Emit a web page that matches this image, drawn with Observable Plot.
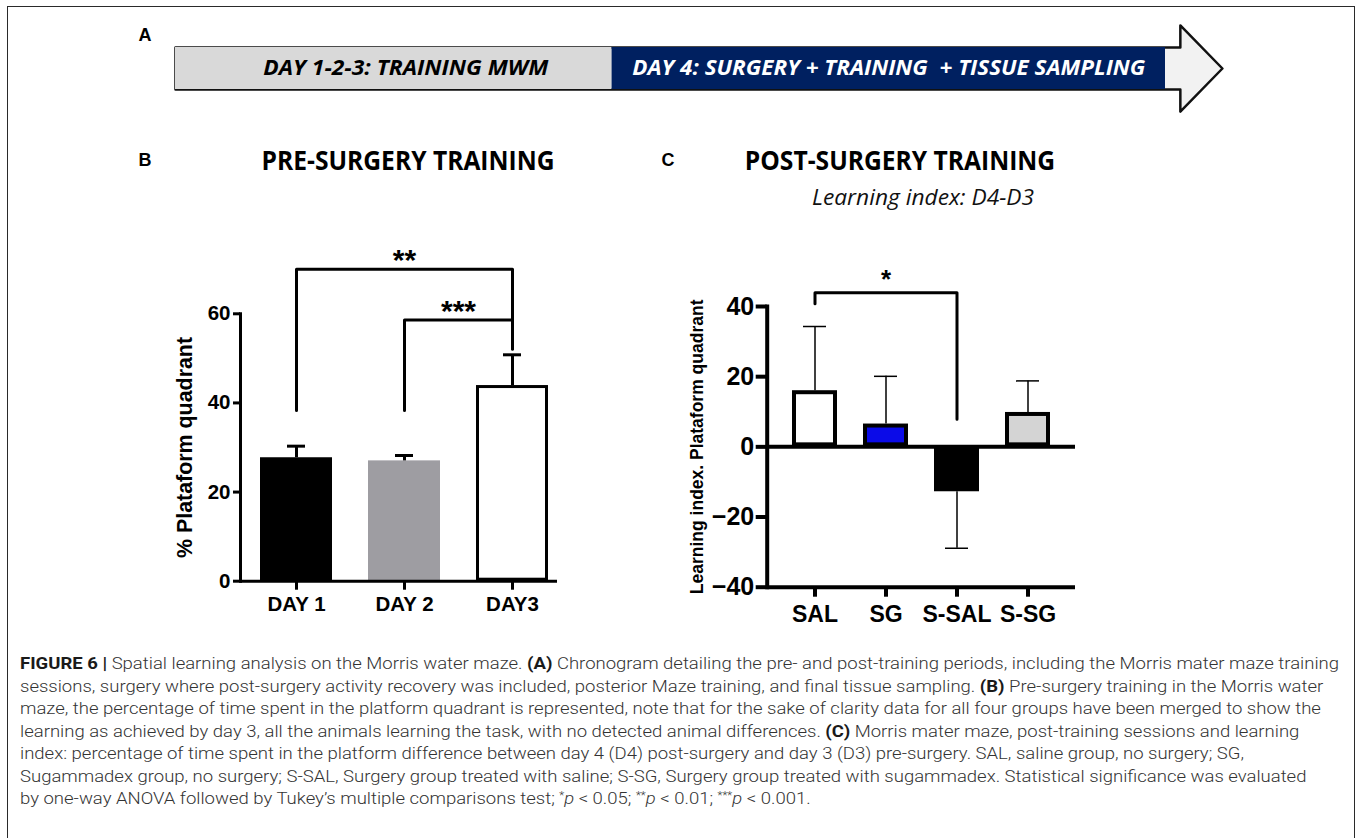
<!DOCTYPE html>
<html><head><meta charset="utf-8">
<script src="https://cdn.jsdelivr.net/npm/d3@7"></script>
<script src="https://cdn.jsdelivr.net/npm/@observablehq/plot@0.6"></script>
<style>
html,body{margin:0;padding:0;background:#fff;}
#fig{position:relative;width:1358px;height:838px;overflow:hidden;background:#fff;}
.abs{position:absolute;}
.ctr{position:absolute;transform:translate(-50%,-50%);white-space:nowrap;}
#frame{position:absolute;left:7px;top:6px;width:1348px;height:900px;border:1.5px solid #2a2a2a;box-sizing:border-box;}
.panel{font-family:"Liberation Sans",Arial,sans-serif;font-weight:bold;font-size:18px;color:#000;}
.title{font-family:"Open Sans","DejaVu Sans",sans-serif;font-weight:700;font-size:26px;color:#000;}
.sub{font-family:"Open Sans","DejaVu Sans",sans-serif;font-style:italic;font-size:21px;color:#111;}
#caption{position:absolute;left:20px;top:653px;font-family:Roboto,"Liberation Sans",sans-serif;font-weight:300;font-size:16px;color:#333;line-height:22.5px;transform-origin:0 0;white-space:nowrap;}
#caption .ln{display:block;width:max-content;}
#caption b{font-weight:700;color:#1a1a1a;}
#caption sup{font-size:10px;vertical-align:5px;line-height:0;}
</style></head>
<body>
<div id="fig">
  <div id="frame"></div>
</div>
<script>
// ---------------- DATA ----------------
// Panel A: chronogram phases (share of the timeline body, %)
const phases = ["DAY 1-2-3: TRAINING MWM", "DAY 4: SURGERY + TRAINING  + TISSUE SAMPLING"];
const phaseShare = [44.1, 55.9];

// Panel B: pre-surgery training
const daysB = ["DAY 1", "DAY 2", "DAY3"];
const meanB = [27.7, 27.0, 43.9];
const errB = [2.6, 1.2, 6.9];
const ticksB = [0, 20, 40, 60];
const sigB = [
  {from: "DAY 1", to: "DAY3", fromY: 38.3, toY: 52.1, barY: 70.0, label: "**"},
  {from: "DAY 2", to: "DAY3", fromY: 38.3, toY: 52.1, barY: 58.6, label: "***"}
];

// Panel C: post-surgery learning index (D4-D3)
const groupsC = ["SAL", "SG", "S-SAL", "S-SG"];
const meanC = [16.0, 6.5, -12.8, 9.8];
const errC = [18.3, 13.6, 16.1, 9.0];
const ticksC = [-40, -20, 0, 20, 40];
const sigC = [
  {from: "SAL", to: "S-SAL", fromY: 40.8, toY: 7.9, barY: 43.9, label: "*"}
];

// ---------------- STYLES ----------------
const phaseFill = ["#d9d9d9", "#002060"];
const phaseInk = ["#000000", "#ffffff"];
const phaseLabelWidth = [285, 513];
const phaseLabelShift = [12, 0];
const fillB = ["#000000", "#9e9da2", "#ffffff"];
const strokeB = ["#000000", "#9e9da2", "#000000"];
const fillC = ["#ffffff", "#0b0be8", "#000000", "#d4d4d4"];
const strokeC = ["#000000", "#000000", "#000000", "#000000"];

const baseStyle = {fontFamily: "Liberation Sans, Arial, sans-serif", fontWeight: "bold", color: "#000",
  background: "transparent", overflow: "visible", maxWidth: "none"};

const fig = document.getElementById("fig");
function place(node, left, top) {
  const d = document.createElement("div");
  d.className = "abs"; d.style.left = left + "px"; d.style.top = top + "px";
  d.appendChild(node); fig.appendChild(d); return d;
}
function label(text, cls, cx, cy) {
  const s = document.createElement("div");
  s.className = "ctr " + cls; s.textContent = text;
  s.style.left = cx + "px"; s.style.top = cy + "px";
  fig.appendChild(s); return s;
}

// ---------------- PANEL A ----------------
const ends = d3.cumsum(phaseShare);
const phaseData = phases.map((p, i) => ({label: p, start: i ? ends[i - 1] : 0, end: ends[i], fill: phaseFill[i], ink: phaseInk[i]}));
const bodyEnd = ends[ends.length - 1] + 1.5, tip = bodyEnd + 4.25, head = 2.05;
const arrowShape = [[0, 1], [bodyEnd, 1], [bodyEnd, head], [tip, 0], [bodyEnd, -head], [bodyEnd, -1], [0, -1]]
  .map(([x, y]) => ({x, y}));

const plotA = Plot.plot({
  width: 1358, height: 130, marginLeft: 175, marginRight: 193, marginTop: 47, marginBottom: 41,
  style: baseStyle,
  x: {domain: [0, 100], axis: null},
  y: {domain: [-1, 1], axis: null},
  color: {type: "identity"},
  marks: [
    Plot.line(arrowShape, {x: "x", y: "y", curve: "linear-closed", fill: "#f2f2f2", stroke: "#111", strokeWidth: 2.5}),
    Plot.rect(phaseData, {x1: "start", x2: "end", y1: -1, y2: 1, fill: "fill"}),
    ...phaseData.map((d, i) => Plot.text([d], {x: d => (d.start + d.end) / 2, text: "label", fill: "ink", fontSize: 21,
      dx: phaseLabelShift[i], fontWeight: "bold", fontStyle: "italic", fontFamily: "Open Sans, DejaVu Sans, sans-serif"}))
  ]
});
place(plotA, 0, 0);
plotA.querySelectorAll('g[aria-label="text"] text').forEach((t, i) => {
  t.setAttribute("textLength", phaseLabelWidth[i]);
  t.setAttribute("lengthAdjust", "spacingAndGlyphs");
});

// ---------------- helpers ----------------
const bracket = s => [{x: s.from, y: s.fromY}, {x: s.from, y: s.barY}, {x: s.to, y: s.barY}, {x: s.to, y: s.toY}];
function bandPos(plot, v) {
  const sx = plot.scale("x");
  if (sx.apply) return sx.apply(v);
  return d3.scaleBand(sx.domain, sx.range).paddingInner(sx.paddingInner).paddingOuter(sx.paddingOuter).align(sx.align)(v);
}
function stars(plot, sigs, size, dy) {
  return sigs.map(s => Plot.text([s], {x: "from", y: "barY", text: "label", lineAnchor: "bottom",
    dx: (bandPos(plot, s.to) - bandPos(plot, s.from)) / 2, dy, fontSize: size, fontWeight: "bold"}));
}

// ---------------- PANEL B ----------------
const dataB = daysB.map((d, i) => ({day: d, mean: meanB[i], tip: meanB[i] + errB[i], fill: fillB[i], stroke: strokeB[i]}));
function buildB(extra) {
  return Plot.plot({
    width: 430, height: 390, marginLeft: 100, marginRight: 13, marginTop: 83.3, marginBottom: 39.3,
    style: baseStyle,
    x: {type: "band", domain: daysB, paddingInner: 0.337, paddingOuter: 0.128, align: 0.665},
    y: {domain: [0, 60]},
    color: {type: "identity"},
    marks: [
      Plot.barY(dataB, {x: "day", y: "mean", fill: "fill", stroke: "stroke", strokeWidth: 3, inset: 1.5}),
      Plot.ruleX(dataB, {x: "day", y1: "mean", y2: "tip", strokeWidth: 3}),
      Plot.tickY(dataB, {x: "day", y: "tip", strokeWidth: 3, insetLeft: 27, insetRight: 27}),
      Plot.ruleY([0], {strokeWidth: 3}),
      Plot.frame({anchor: "left", strokeWidth: 3}),
      Plot.axisY({ticks: ticksB, tickSize: 7, tickPadding: 3, strokeWidth: 3, fontSize: 20.5, fontWeight: "bold", label: null}),
      Plot.axisX({tickSize: 9, tickPadding: 6, strokeWidth: 3, fontSize: 20.5, fontWeight: "bold", label: null}),
      Plot.text(["% Plataform quadrant"], {text: d => d, frameAnchor: "left", textAnchor: "middle", rotate: -90, dx: -55, fontSize: 21.4, fontWeight: "bold"}),
      ...sigB.map(s => Plot.line(bracket(s), {x: "x", y: "y", strokeWidth: 3})),
      ...extra
    ]
  });
}
let plotB = buildB([]);
plotB = buildB(stars(plotB, sigB, 30, 1));
place(plotB, 140, 230);

// ---------------- PANEL C ----------------
const dataC = groupsC.map((g, i) => ({g, mean: meanC[i], tip: meanC[i] + Math.sign(meanC[i]) * errC[i], fill: fillC[i], stroke: strokeC[i]}));
function buildC(extra) {
  return Plot.plot({
    width: 420, height: 380, marginLeft: 96.7, marginRight: 15, marginTop: 56, marginBottom: 43.3,
    style: baseStyle,
    x: {type: "band", domain: groupsC, paddingInner: 0.368, paddingOuter: 0.349, align: 0.5},
    y: {domain: [-40, 40]},
    color: {type: "identity"},
    marks: [
      Plot.barY(dataC, {x: "g", y: "mean", fill: "fill", stroke: "stroke", strokeWidth: 4, inset: 2}),
      Plot.ruleX(dataC, {x: "g", y1: "mean", y2: "tip", strokeWidth: 1.5}),
      Plot.tickY(dataC, {x: "g", y: "tip", strokeWidth: 1.5, insetLeft: 11, insetRight: 11}),
      Plot.ruleY([0], {strokeWidth: 4}),
      Plot.ruleY([-40], {strokeWidth: 4}),
      Plot.frame({anchor: "left", strokeWidth: 4}),
      Plot.axisY({ticks: ticksC, tickSize: 11, tickPadding: 2, strokeWidth: 4, fontSize: 25, fontWeight: "bold", label: null}),
      Plot.axisX({tickSize: 10, tickPadding: 8, strokeWidth: 4, fontSize: 23, fontWeight: "bold", label: null}),
      Plot.text(["Learning index. Plataform quadrant"], {text: d => d, frameAnchor: "left", textAnchor: "middle", rotate: -90, dx: -70, fontSize: 17.5, fontWeight: "bold"}),
      ...sigC.map(s => Plot.line(bracket(s), {x: "x", y: "y", strokeWidth: 3})),
      ...extra
    ]
  });
}
let plotC = buildC([]);
plotC = buildC(stars(plotC, sigC, 26, -5));
place(plotC, 670, 250);

// ---------------- TEXT ----------------
label("A", "panel", 145, 35);
label("B", "panel", 145, 160);
label("C", "panel", 668, 160);
const tPre = label("PRE-SURGERY TRAINING", "title", 408, 160);
const tPost = label("POST-SURGERY TRAINING", "title", 900, 160);
const tSub = label("Learning index: D4-D3", "sub", 923, 197);
{
  const f = 293 / tPre.getBoundingClientRect().width;
  [tPre, tPost].forEach(t => t.style.transform = `translate(-50%,-50%) scaleX(${f})`);
  const fs = 222 / tSub.getBoundingClientRect().width;
  tSub.style.transform = `translate(-50%,-50%) scaleX(${fs})`;
}

const cap = document.createElement("div");
cap.id = "caption";
cap.innerHTML = [
  `<b>FIGURE 6 |</b> Spatial learning analysis on the Morris water maze. <b>(A)</b> Chronogram detailing the pre- and post-training periods, including the Morris mater maze training`,
  `sessions, surgery where post-surgery activity recovery was included, posterior Maze training, and final tissue sampling. <b>(B)</b> Pre-surgery training in the Morris water`,
  `maze, the percentage of time spent in the platform quadrant is represented, note that for the sake of clarity data for all four groups have been merged to show the`,
  `learning as achieved by day 3, all the animals learning the task, with no detected animal differences. <b>(C)</b> Morris mater maze, post-training sessions and learning`,
  `index: percentage of time spent in the platform difference between day 4 (D4) post-surgery and day 3 (D3) pre-surgery. SAL, saline group, no surgery; SG,`,
  `Sugammadex group, no surgery; S-SAL, Surgery group treated with saline; S-SG, Surgery group treated with sugammadex. Statistical significance was evaluated`,
  `by one-way ANOVA followed by Tukey’s multiple comparisons test; <sup>*</sup><i>p</i> &lt; 0.05; <sup>**</sup><i>p</i> &lt; 0.01; <sup>***</sup><i>p</i> &lt; 0.001.`
].map(l => `<span class="ln">${l}</span>`).join("");
fig.appendChild(cap);
{
  const w1 = cap.querySelector(".ln").getBoundingClientRect().width;
  cap.style.transform = `scaleX(${1319 / w1})`;
}
</script>
</body></html>
